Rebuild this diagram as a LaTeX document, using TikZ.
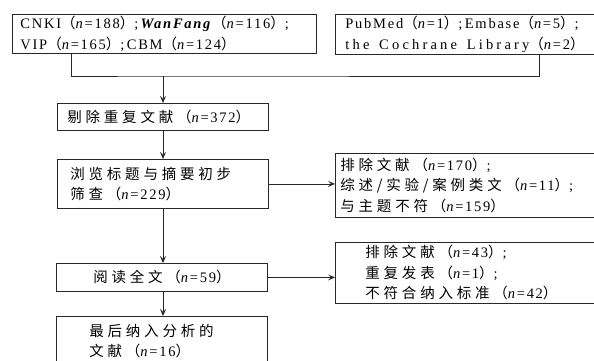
\documentclass[tikz,border=0pt]{standalone}
\usepackage{fontspec}
\setmainfont{Liberation Serif}[LetterSpace=12]
\newfontfamily\cjk{Noto Sans CJK SC}[LetterSpace=26]
\usepackage{tikz}
\usetikzlibrary{arrows.meta, positioning}
\definecolor{flowline}{RGB}{40,40,40}
\newcommand\cnt[1]{{\cjk （}\textit{n}=#1{\cjk ）}}

\begin{document}
\begin{tikzpicture}[x=1pt, y=-1pt,
    flowbox/.style={draw=flowline, line width=0.9pt, anchor=north west, align=left,
                    inner xsep=0pt, inner ysep=0pt, font=\fontsize{14.5}{20.5}\selectfont},
    flowarrow/.style={draw=flowline, line width=0.9pt, -{Stealth[length=7pt, width=6pt, inset=3pt]}}]
  \useasboundingbox (0,0) rectangle (594,361);
  \clip (0,0) rectangle (594,361);
  \fill[white] (0,0) rectangle (594,361);

  % Sources
  \node[flowbox, minimum width=304pt, minimum height=39pt, text width=288pt] (cn) at (12,14)
       {CNKI\cnt{188};\,\textbf{\textit{WanFang}}\cnt{116};\\
        VIP\cnt{165};\,CBM\cnt{124}};
  \node[flowbox, minimum width=270pt, minimum height=40pt, text width=250pt] (en) at (335,14)
       {PubMed\cnt{1};\,Embase\cnt{5};\\
        \mbox{{\addfontfeatures{LetterSpace=22}the\ \ Cochrane\ \ Library}\cnt{2}}};

  % Main column
  \node[flowbox, minimum width=211pt, minimum height=27pt, text width=191pt] (dedup) at (57,103)
       {{\cjk 剔除重复文献}\cnt{372}};
  \node[flowbox, minimum width=211pt, minimum height=49pt, text width=185pt] (screen) at (57,159)
       {{\cjk 浏览标题与摘要初步}\\{\cjk 筛查}\cnt{229}};
  \node[flowbox, minimum width=211pt, minimum height=28pt, text width=211pt, align=center] (full) at (56,263)
       {{\cjk 阅读全文}\cnt{59}};
  \node[flowbox, minimum width=211pt, minimum height=49pt, text width=145pt] (final) at (56,316)
       {{\cjk 最后纳入分析的}\\{\cjk 文献}\cnt{16}};

  % Exclusions
  \node[flowbox, minimum width=265pt, minimum height=64pt, text width=255pt] (ex1) at (335,153)
       {{\cjk 排除文献}\cnt{170};\\
        {\cjk 综述/实验/案例类文}\cnt{11};\\
        {\cjk 与主题不符}\cnt{159}};
  \node[flowbox, minimum width=265pt, minimum height=61pt, text width=205pt] (ex2) at (335,242)
       {{\cjk 排除文献}\cnt{43};\\
        {\cjk 重复发表}\cnt{1};\\
        {\cjk 不符合纳入标准}\cnt{42}};

  % Connectors
  \coordinate (join) at (163,76);
  \draw[draw=flowline, line width=0.9pt] ([xshift=59pt]cn.south west) |- (join)
       -| ([xshift=204pt]en.south west);
  \draw[flowarrow] (join) -- (join |- dedup.north);
  \draw[flowarrow] (dedup.south -| join) -- (screen.north -| join);
  \draw[flowarrow] (screen.south -| join) -- (full.north -| join);
  \draw[flowarrow] (full.south -| join) -- (final.north -| join);
  \draw[flowarrow] (screen.east) -- (screen.east -| ex1.west);
  \draw[flowarrow] (full.east) -- (full.east -| ex2.west);
\end{tikzpicture}
\end{document}
